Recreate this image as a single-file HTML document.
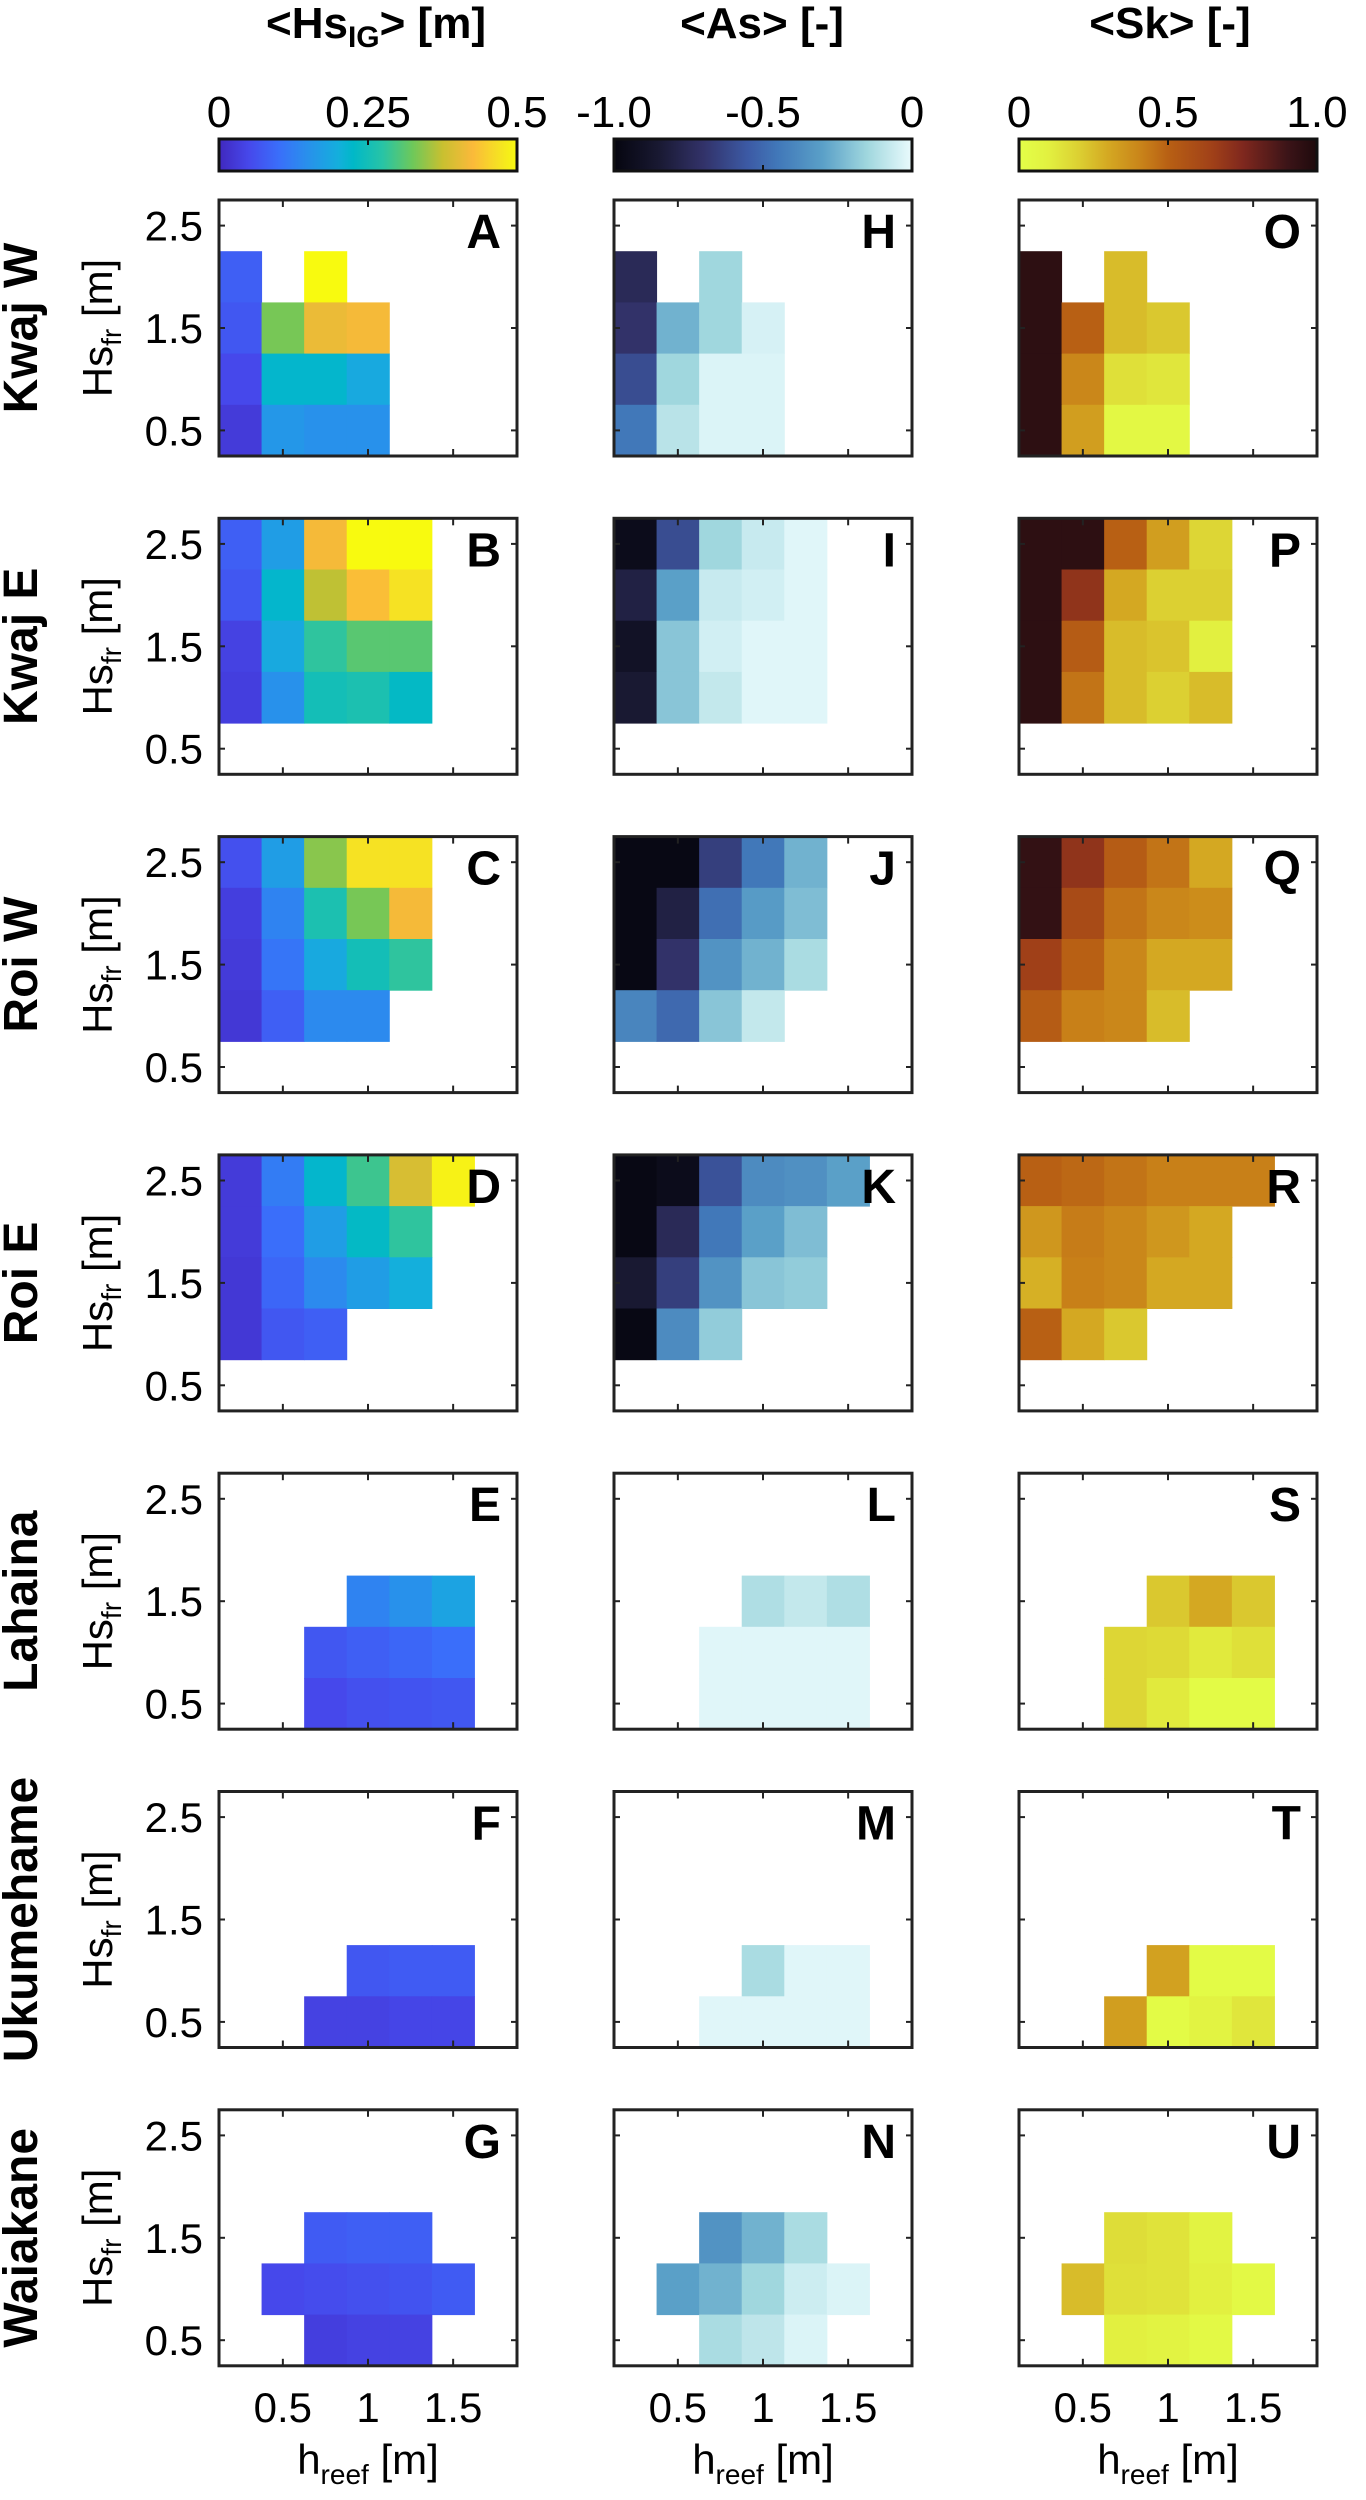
<!DOCTYPE html>
<html><head><meta charset="utf-8"><style>
html,body{margin:0;padding:0;background:#fff;}
svg{display:block;font-family:"Liberation Sans",Arial,sans-serif;}
</style></head><body>
<svg id="fig" width="1366" height="2500" viewBox="0 0 1366 2500" xmlns="http://www.w3.org/2000/svg">
<defs id="defs"></defs>
</svg>
<script>
// ---- data ----
const hreefCenters = [0.25,0.5,0.75,1.0,1.25,1.5,1.75];
const hsCenters = [2.5,2.0,1.5,1.0,0.5];
const xTicks = [0.5,1,1.5];
const xTickLabels = ["0.5","1","1.5"];
const yTicks = [2.5,1.5,0.5];
const yTickLabels = ["2.5","1.5","0.5"];
const siteNames = ["Kwaj W","Kwaj E","Roi W","Roi E","Lahaina","Ukumehame","Waiakane"];
const n = null;
// HsIG [m]
const panelA = [[n,n,n,n,n,n,n],[.08,n,.5,n,n,n,n],[.07,.33,.41,.42,n,n,n],[.05,.22,.22,.19,n,n,n],[.03,.16,.15,.15,n,n,n]];
const panelB = [[.08,.17,.42,.5,.5,n,n],[.07,.22,.37,.43,.47,n,n],[.04,.19,.28,.31,.31,n,n],[.035,.15,.25,.26,.23,n,n],[n,n,n,n,n,n,n]];
const panelC = [[.06,.17,.34,.47,.47,n,n],[.035,.13,.26,.33,.42,n,n],[.03,.11,.19,.25,.28,n,n],[.025,.08,.14,.14,n,n,n],[n,n,n,n,n,n,n]];
const panelD = [[.03,.12,.22,.29,.39,.49,n],[.03,.10,.17,.23,.28,n,n],[.025,.09,.14,.17,.2,n,n],[.025,.07,.08,n,n,n,n],[n,n,n,n,n,n,n]];
const panelE = [[n,n,n,n,n,n,n],[n,n,n,n,n,n,n],[n,n,n,.13,.15,.18,n],[n,n,.07,.08,.09,.10,n],[n,n,.05,.06,.065,.07,n]];
const panelF = [[n,n,n,n,n,n,n],[n,n,n,n,n,n,n],[n,n,n,n,n,n,n],[n,n,n,.07,.075,.075,n],[n,n,.04,.04,.045,.045,n]];
const panelG = [[n,n,n,n,n,n,n],[n,n,n,n,n,n,n],[n,n,.075,.08,.08,n,n],[n,.05,.055,.06,.065,.075,n],[n,n,.035,.04,.04,n,n]];
// As [-]
const panelH = [[n,n,n,n,n,n,n],[-.75,n,-.15,n,n,n,n],[-.7,-.25,-.15,-.04,n,n,n],[-.6,-.15,-.03,-.03,n,n,n],[-.45,-.1,-.03,-.03,n,n,n]];
const panelI = [[-.95,-.6,-.15,-.07,-.02,n,n],[-.8,-.3,-.07,-.05,-.02,n,n],[-.9,-.2,-.05,-.02,-.02,n,n],[-.85,-.2,-.08,-.02,-.02,n,n],[n,n,n,n,n,n,n]];
const panelJ = [[-.98,-.98,-.65,-.45,-.25,n,n],[-.98,-.8,-.48,-.32,-.22,n,n],[-.98,-.7,-.35,-.25,-.13,n,n],[-.4,-.5,-.2,-.08,n,n,n],[n,n,n,n,n,n,n]];
const panelK = [[-.98,-.95,-.58,-.38,-.36,-.3,n],[-.98,-.75,-.45,-.3,-.22,n,n],[-.85,-.65,-.35,-.2,-.18,n,n],[-.98,-.38,-.18,n,n,n,n],[n,n,n,n,n,n,n]];
const panelL = [[n,n,n,n,n,n,n],[n,n,n,n,n,n,n],[n,n,n,-.12,-.08,-.12,n],[n,n,-.02,-.02,-.02,-.02,n],[n,n,-.02,-.02,-.02,-.02,n]];
const panelM = [[n,n,n,n,n,n,n],[n,n,n,n,n,n,n],[n,n,n,n,n,n,n],[n,n,n,-.13,-.02,-.02,n],[n,n,-.02,-.02,-.02,-.02,n]];
const panelN = [[n,n,n,n,n,n,n],[n,n,n,n,n,n,n],[n,n,-.35,-.25,-.13,n,n],[n,-.3,-.25,-.15,-.06,-.03,n],[n,n,-.13,-.09,-.03,n,n]];
// Sk [-]
const panelO = [[n,n,n,n,n,n,n],[.95,n,.25,n,n,n,n],[.95,.5,.25,.22,n,n,n],[.95,.4,.15,.13,n,n,n],[.95,.33,.05,.05,n,n,n]];
const panelP = [[.95,.95,.5,.33,.18,n,n],[.95,.7,.3,.2,.2,n,n],[.95,.52,.25,.23,.1,n,n],[.95,.45,.25,.2,.25,n,n],[n,n,n,n,n,n,n]];
const panelQ = [[.93,.7,.52,.45,.3,n,n],[.93,.6,.45,.4,.38,n,n],[.65,.5,.4,.3,.3,n,n],[.52,.42,.4,.25,n,n,n],[n,n,n,n,n,n,n]];
const panelR = [[.5,.48,.45,.42,.42,.42,n],[.35,.43,.4,.35,.3,n,n],[.28,.42,.4,.3,.3,n,n],[.5,.3,.22,n,n,n,n],[n,n,n,n,n,n,n]];
const panelS = [[n,n,n,n,n,n,n],[n,n,n,n,n,n,n],[n,n,n,.22,.3,.22,n],[n,n,.18,.17,.12,.15,n],[n,n,.18,.12,.03,.03,n]];
const panelT = [[n,n,n,n,n,n,n],[n,n,n,n,n,n,n],[n,n,n,n,n,n,n],[n,n,n,.32,.03,.03,n],[n,n,.33,.03,.08,.13,n]];
const panelU = [[n,n,n,n,n,n,n],[n,n,n,n,n,n,n],[n,n,.16,.14,.08,n,n],[n,.25,.15,.14,.1,.04,n],[n,n,.1,.08,.04,n,n]];

const cbTickValsHs = [0,0.25,0.5];
const cbTickLabelsHs = ["0","0.25","0.5"];
const cbTickValsAs = [-1,-0.5,0];
const cbTickLabelsAs = ["-1.0","-0.5","0"];
const cbTickValsSk = [0,0.5,1];
const cbTickLabelsSk = ["0","0.5","1.0"];

// ---- colormaps ----
const parulaStops = [[0,64,40,190],[.1,70,72,235],[.2,58,110,250],[.3,40,145,235],[.4,20,175,220],[.45,0,184,200],[.55,40,196,165],[.65,110,200,90],[.75,200,192,48],[.85,250,185,58],[.95,245,230,32],[1,248,250,15]];
const iceStops = [[0,5,5,15],[.15,25,25,50],[.3,50,50,105],[.45,60,90,165],[.55,65,120,185],[.7,90,160,200],[.85,160,215,222],[1,234,251,253]];
const heatStops = [[0,228,255,72],[.1,226,240,64],[.2,220,208,50],[.3,212,168,34],[.42,200,128,24],[.5,184,96,20],[.65,160,64,24],[.75,128,40,30],[.9,60,20,24],[1,30,10,12]];
function cmap(stops,t){
  t=Math.max(0,Math.min(1,t));
  for(let i=1;i<stops.length;i++){
    if(t<=stops[i][0]){
      const a=stops[i-1],b=stops[i],f=(t-a[0])/(b[0]-a[0]||1);
      return `rgb(${Math.round(a[1]+(b[1]-a[1])*f)},${Math.round(a[2]+(b[2]-a[2])*f)},${Math.round(a[3]+(b[3]-a[3])*f)})`;
    }
  }
  const l=stops[stops.length-1];return `rgb(${l[1]},${l[2]},${l[3]})`;
}
const columns = [
  {stops:parulaStops,vmin:0,vmax:0.5,panels:[panelA,panelB,panelC,panelD,panelE,panelF,panelG],letters:["A","B","C","D","E","F","G"],cbv:cbTickValsHs,cbl:cbTickLabelsHs,cbTickTop:true,key:"hsig"},
  {stops:iceStops,vmin:-1,vmax:0,panels:[panelH,panelI,panelJ,panelK,panelL,panelM,panelN],letters:["H","I","J","K","L","M","N"],cbv:cbTickValsAs,cbl:cbTickLabelsAs,cbTickTop:false,key:"as"},
  {stops:heatStops,vmin:0,vmax:1,panels:[panelO,panelP,panelQ,panelR,panelS,panelT,panelU],letters:["O","P","Q","R","S","T","U"],cbv:cbTickValsSk,cbl:cbTickLabelsSk,cbTickTop:true,key:"sk"}
];

// ---- layout ----
const NS="http://www.w3.org/2000/svg";
const svg=document.getElementById('fig');
const defs=document.getElementById('defs');
const colLeft=[219,614,1019], PW=298, PH=256, rowTop0=200, rowPitch=318.3;
const xMin=0.125,xMax=1.875,yMin=0.25,yMax=2.75;
function el(tag,attrs,parent){const e=document.createElementNS(NS,tag);for(const k in attrs)e.setAttribute(k,attrs[k]);(parent||svg).appendChild(e);return e;}
function txt(str,attrs,parent){const e=el('text',attrs,parent);e.textContent=str;return e;}

// titles
const titleX=[376,762,1170];
{
  const t=el('text',{x:titleX[0],y:38,'text-anchor':'middle','font-size':44,'font-weight':'bold'});
  
  
  t.appendChild(document.createTextNode('<Hs'));
  const s=el('tspan',{dy:9,'font-size':30},t);s.textContent='IG';
  const s2=el('tspan',{dy:-9},t);s2.textContent='> [m]';
  const t2=txt('<As> [-]',{x:titleX[1],y:38,'text-anchor':'middle','font-size':44,'font-weight':'bold'});
  
  
  const t3=txt('<Sk> [-]',{x:titleX[2],y:38,'text-anchor':'middle','font-size':44,'font-weight':'bold'});
  
  
}

columns.forEach((col,ci)=>{
  const L=colLeft[ci];
  const gid='grad'+ci;
  const g=el('linearGradient',{id:gid,x1:0,x2:1,y1:0,y2:0},defs);
  for(let k=0;k<=20;k++){el('stop',{offset:k/20,'stop-color':cmap(col.stops,k/20)},g);}
  const cb=el('g',{});
  
  
  el('rect',{x:L,y:139,width:PW,height:32,fill:`url(#${gid})`,stroke:'#111','stroke-width':3},cb);
  const cbx=v=>L+(v-col.vmin)/(col.vmax-col.vmin)*PW;
  col.cbv.forEach((v,i)=>{
    const lab=txt(col.cbl[i],{x:cbx(v),y:127,'text-anchor':'middle','font-size':44},cb);
    
    
    if(i===1){ if(col.cbTickTop) el('line',{x1:cbx(v),x2:cbx(v),y1:139,y2:145,stroke:'#111','stroke-width':2},cb); else el('line',{x1:cbx(v),x2:cbx(v),y1:165,y2:171,stroke:'#111','stroke-width':2},cb);}
  });

  col.panels.forEach((grid,ri)=>{
    const T=rowTop0+ri*rowPitch;
    const xs=h=>L+(h-xMin)/(xMax-xMin)*PW;
    const ys=v=>T+(yMax-v)/(yMax-yMin)*PH;
    const pg=el('g',{});
    
    
    grid.forEach((row,r)=>{
      row.forEach((v,c)=>{
        if(v===null) return;
        const x0=xs(hreefCenters[c]-0.125), x1=xs(hreefCenters[c]+0.125);
        const y0=ys(hsCenters[r]+0.25), y1=ys(hsCenters[r]-0.25);
        const rc=el('rect',{x:x0,y:y0,width:x1-x0+0.5,height:y1-y0+0.5,fill:cmap(col.stops,(v-col.vmin)/(col.vmax-col.vmin))},pg);
        
        
      });
    });
    el('rect',{x:L,y:T,width:PW,height:PH,fill:'none',stroke:'#222','stroke-width':3},pg);
    xTicks.forEach(h=>{el('line',{x1:xs(h),x2:xs(h),y1:T,y2:T+7,stroke:'#222','stroke-width':2},pg);el('line',{x1:xs(h),x2:xs(h),y1:T+PH,y2:T+PH-7,stroke:'#222','stroke-width':2},pg);});
    yTicks.forEach(v=>{el('line',{x1:L,x2:L+6,y1:ys(v),y2:ys(v),stroke:'#222','stroke-width':2},pg);el('line',{x1:L+PW,x2:L+PW-6,y1:ys(v),y2:ys(v),stroke:'#222','stroke-width':2},pg);});
    const lt=txt(col.letters[ri],{x:L+PW-16,y:T+48,'text-anchor':'end','font-size':48,'font-weight':'bold'},pg);
    
    
    if(ci===0){
      yTicks.forEach((v,i)=>{const t=txt(yTickLabels[i],{x:203,y:ys(v)+15,'text-anchor':'end','font-size':42},pg);
        
        });
      const cy=T+PH/2;
      const yl=el('text',{x:0,y:0,'text-anchor':'middle','font-size':42,transform:`translate(112,${cy}) rotate(-90)`});
      
      
      yl.appendChild(document.createTextNode('Hs'));
      const sb=el('tspan',{dy:9,'font-size':28},yl);sb.textContent='fr';
      const sb2=el('tspan',{dy:-9},yl);sb2.textContent=' [m]';
      const rl=txt(siteNames[ri],{x:0,y:0,'text-anchor':'middle','font-size':48,'font-weight':'bold',transform:`translate(37,${cy}) rotate(-90)`});
      
      
    }
    if(ri===6){
      xTicks.forEach((h,i)=>{const t=txt(xTickLabels[i],{x:xs(h),y:2422,'text-anchor':'middle','font-size':42},pg);
        
        });
      const xl=el('text',{x:L+PW/2,y:2474,'text-anchor':'middle','font-size':42});
      
      
      xl.appendChild(document.createTextNode('h'));
      const s=el('tspan',{dy:10,'font-size':28},xl);s.textContent='reef';
      const s2=el('tspan',{dy:-10},xl);s2.textContent=' [m]';
    }
  });
});
</script>
</body></html>
